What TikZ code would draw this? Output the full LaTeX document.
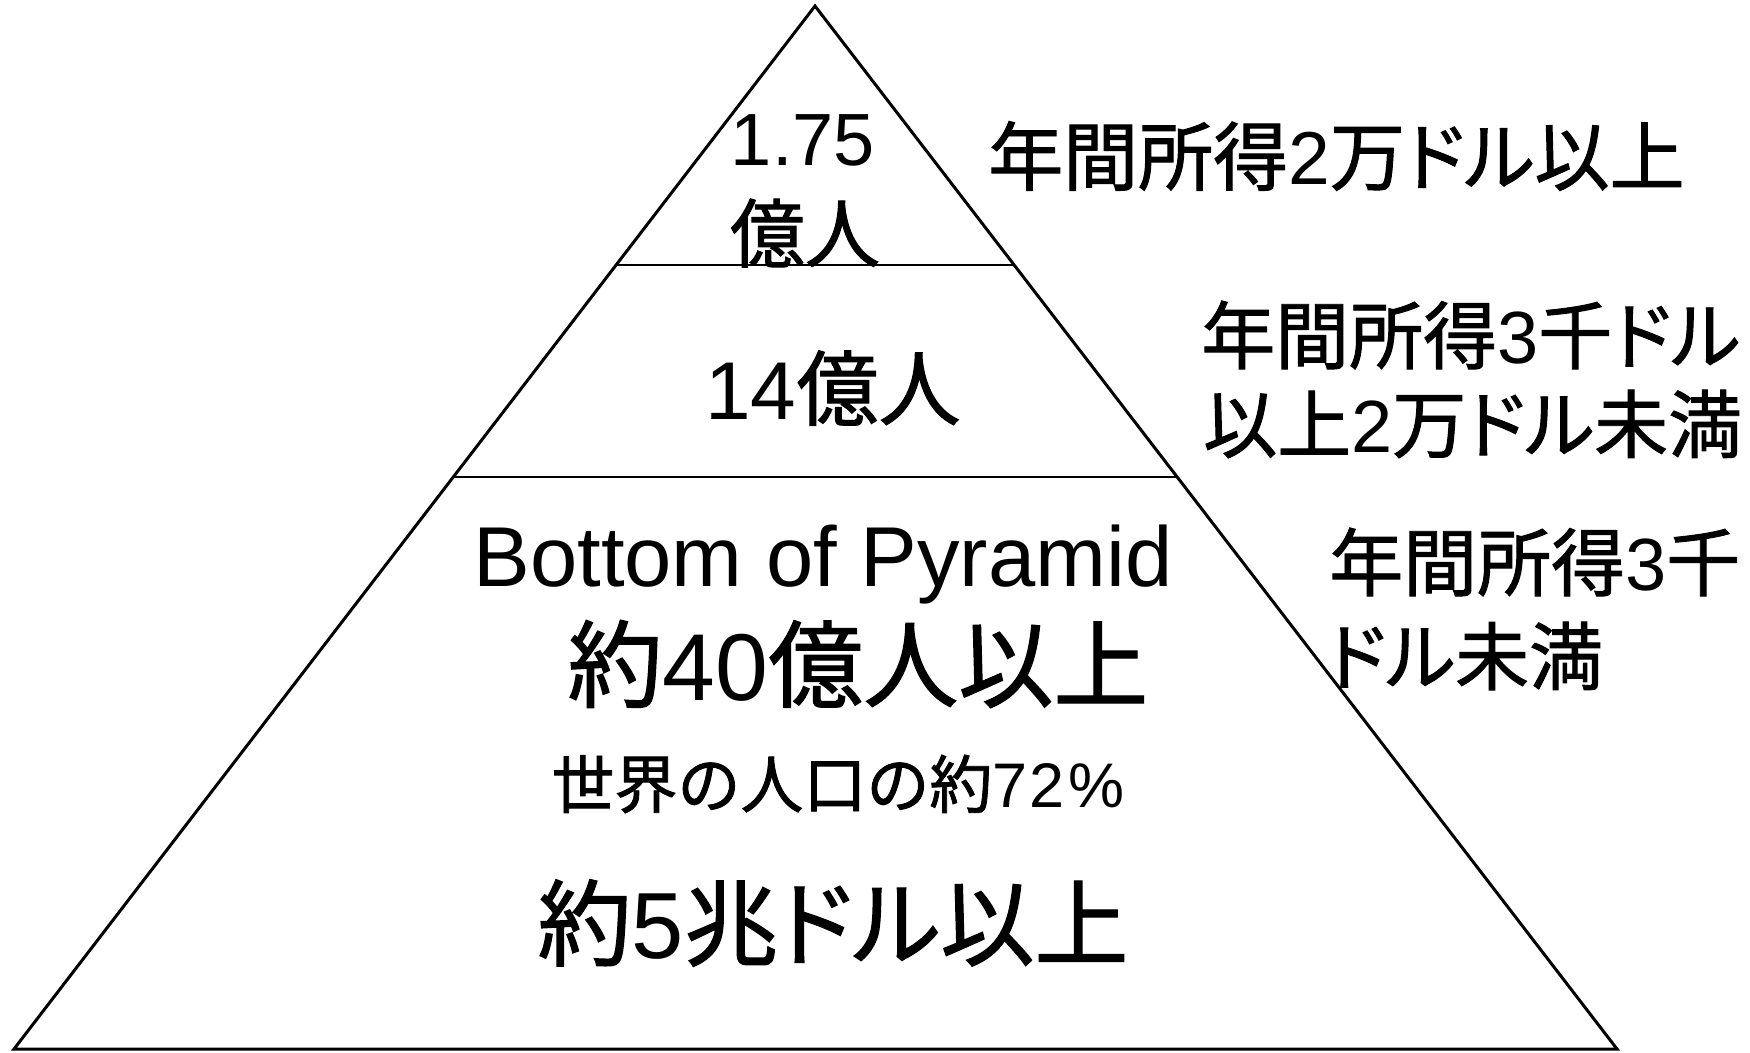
\documentclass[tikz,border=0pt]{standalone}
\usepackage{fontspec}
\setmainfont{Liberation Sans}
\newfontfamily\jp[FakeBold=1.3]{Noto Sans CJK JP}
\newfontfamily\jpp[FakeBold=1.3,RawFeature=+palt]{Noto Sans CJK JP}
\newcommand{\J}[1]{{\jp #1}}
\newcommand{\JP}[1]{{\jpp #1}}
\usetikzlibrary{calc}
\begin{document}
\begin{tikzpicture}[x=1pt,y=-1pt,
  txt/.style={inner sep=0pt, text=black},
  fs/.style={font=\fontsize{#1}{#1}\selectfont},
  tier/.style={line width=2pt}]
\useasboundingbox (0,0) rectangle (1750,1052);
\coordinate (apex) at (815,6);
\coordinate (bl) at (14,1049);
\coordinate (br) at (1617,1049);
\coordinate (l1a) at ($(apex)!0.2483!(bl)$);
\coordinate (l1b) at ($(apex)!0.2483!(br)$);
\coordinate (l2a) at ($(apex)!0.4516!(bl)$);
\coordinate (l2b) at ($(apex)!0.4516!(br)$);
% texts
\node[txt,fs=74] (n175) at (803,140) {1.75};
\node[txt,fs=75] (oku1) at (805,233) {\J{億人}};
\node[txt,fs=82] (n14) at (833,388) {14\J{億人}};
\node[txt,fs=75,anchor=west] (r1) at (988,156) {\J{年間所得}2\J{万}\JP{ドル}\J{以上}};
\node[txt,fs=74,anchor=west] (r2a) at (1201,335) {\J{年間所得}3\J{千}\JP{ドル}};
\node[txt,fs=74,anchor=west] (r2b) at (1203,424) {\J{以上}2\J{万}\JP{ドル}\J{未満}};
\node[txt,fs=74,anchor=west] (r3a) at (1329,562) {\J{年間所得}3\J{千}};
\node[txt,fs=74,anchor=west] (r3b) at (1327,656) {\JP{ドル}\J{未満}};
\node[txt,fs=85,anchor=base] (bop) at (823,586) {Bottom of Pyramid};
\node[txt,fs=95] (p40) at (858,664) {\J{約}40\J{億人以上}};
\node[txt,fs=63] (w72) at (838,784) {\J{世界の人口の約}7\kern2pt 2\kern4pt\%};
\node[txt,fs=94] (d5) at (833,923) {\J{約}5\J{兆}\JP{ドル}\J{以上}};
% pyramid
\draw[line width=3pt, line join=miter] (apex) -- (br) -- (bl) -- cycle;
\draw[tier] (l1a) -- (l1b);
\draw[tier] (l2a) -- (l2b);
\end{tikzpicture}
\end{document}
